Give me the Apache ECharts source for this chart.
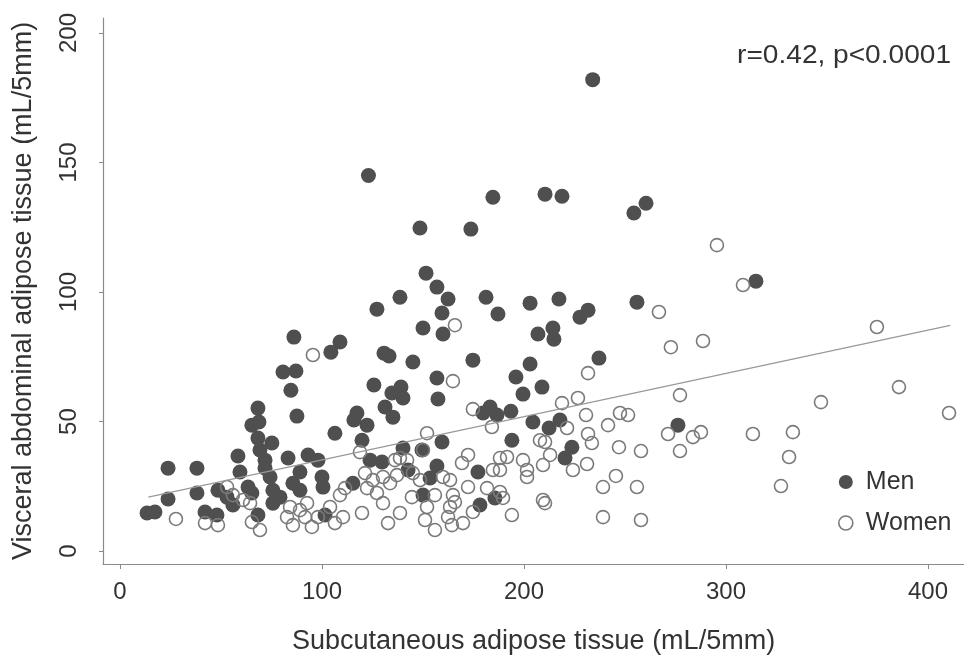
<!DOCTYPE html>
<html>
<head>
<meta charset="utf-8">
<script src="https://cdn.jsdelivr.net/npm/echarts@6/dist/echarts.min.js"></script>
<style>
html,body{margin:0;padding:0;background:#fff;}
#chart{width:964px;height:661px;}
</style>
</head>
<body>
<div id="chart"></div>
<script>
// Men (filled) [subcutaneous, visceral]
const menPoints = [
 [234,182],[123,145],[148.5,124.7],[173.7,124.3],[184.6,136.6],[210.4,137.8],[218.8,137.0],
 [254.4,130.5],[260.4,134.3],[314.8,104.2],[151.5,107.3],[156.9,101.9],[162.4,97.3],[138.6,98.0],
 [127.2,93.4],[150,86.1],[159.4,91.9],[159.9,83.8],[86.1,82.6],[108.9,80.7],[104.4,76.8],
 [130.7,76.4],[133.2,75.3],[145,73],[80.7,69.1],[87.1,69.5],[84.6,62.1],[125.7,64.1],
 [139.1,63.3],[134.6,61.0],[140.1,59.1],[156.9,66.8],[157.4,58.7],[68.3,55.2],[87.6,52.1],
 [117.3,53.3],[115.8,50.6],[131.2,55.6],[135.1,51.7],[181.2,98.0],[187.1,91.5],[203,95.7],
 [217.3,97.3],[227.7,90.3],[231.7,93.0],[206.9,83.8],[214.3,86.1],[214.8,81.8],[255.9,96.1],
 [237.1,74.5],[174.7,73.7],[203,72.2],[196,67.2],[208.9,63.3],[199.5,60.6],[183.2,55.6],
 [179.7,53.3],[186.6,52.5],[193.5,54.0],[217.8,50.6],[212.4,47.5],[223.7,40.1],[220.3,35.9],
 [276.2,48.6],[65.3,48.6],[68.8,49.8],[68.3,43.6],[75.2,41.7],[69.3,39.0],[71.8,35.1],
 [58.4,36.7],[83.2,35.9],[93.1,37.1],[98,35.1],[59.4,30.5],[71.8,32.0],[74.3,28.6],
 [89.1,30.5],[100,28.6],[100.5,24.7],[23.8,32.0],[38.1,32.0],[23.8,20.1],[38.1,22.4],
 [48.5,23.5],[53,20.8],[55.9,17.8],[63.4,24.7],[65.3,22.4],[75.7,23.5],[79.2,20.8],
 [89.1,23.5],[75.7,18.5],[13.4,14.7],[17.3,15.1],[42.1,15.1],[48,13.9],[68.3,13.9],
 [85.6,26.2],[122.3,48.6],[106.4,45.5],[119.8,42.8],[159.4,42.1],[204.4,49.8],[194,42.8],
 [140.1,39.8],[149.5,39.0],[123.8,35.1],[129.7,34.4],[115.3,26.2],[156.9,32.8],[142.6,31.3],
 [153.5,28.2],[177.2,30.5],[150,21.6],[185.6,20.5],[178.2,17.8],[101.5,13.9]
];
// Women (open) [subcutaneous, visceral]
const womenPoints = [
 [295.5,118.1],[308.4,102.7],[165.8,87.2],[95.5,75.7],[266.8,92.3],[272.7,78.7],[288.6,81.1],
 [374.7,86.5],[347,57.5],[385.6,63.3],[410.4,53.3],[231.7,68.7],[277.2,60.2],[226.7,59.1],
 [218.8,57.1],[230.7,52.5],[247.5,53.3],[251.5,52.5],[241.6,48.6],[221.3,47.5],[231.7,45.2],
 [233.6,41.7],[210.4,42.1],[212.9,37.1],[209.4,33.2],[224.2,31.3],[231.2,33.6],[247,40.1],
 [257.9,38.6],[271.3,45.2],[283.6,44.0],[287.6,45.9],[277.2,38.6],[245.5,29.0],[239.1,24.7],
 [255.9,24.7],[209.4,19.7],[210.4,18.5],[239.1,13.1],[257.9,12.0],[313.3,45.2],[333.1,45.9],
 [331.2,36.3],[327.2,25.1],[164.8,65.6],[174.7,54.8],[184.1,47.9],[152,45.5],[150,39.0],
 [118.8,38.2],[138.6,35.9],[142.1,35.1],[136.1,35.1],[172.3,37.1],[169.3,34.0],[188.1,35.9],
 [191.6,36.3],[184.6,31.3],[188.1,31.3],[199.5,35.1],[201.5,31.3],[201.5,28.6],[207.9,42.8],
 [121.3,30.1],[125.2,27.4],[130.2,28.6],[133.7,26.2],[137.1,29.3],[145,30.1],[148.5,27.4],
 [159.9,28.6],[163.4,27.4],[111.4,24.3],[108.9,21.6],[122.3,24.3],[127.2,22.4],[130.2,18.5],
 [144.5,20.8],[155.9,21.6],[164.8,21.6],[165.8,18.9],[172.3,24.7],[181.7,24.3],[188.1,22.8],
 [189.6,20.5],[104,17.0],[106.4,10.8],[110.4,13.1],[119.8,14.7],[138.6,14.7],[132.7,10.8],
 [152,17.0],[151,12.0],[163.4,17.0],[162.4,13.1],[164.3,10.0],[169.8,10.8],[174.7,15.1],
 [194,13.9],[155.9,8.1],[27.7,12.4],[42.1,10.8],[48.5,10.0],[53,24.7],[55.9,21.6],
 [65.3,11.2],[69.3,8.1],[82.7,13.1],[85.6,10.0],[89.1,15.8],[92.6,18.5],[91.6,13.1],
 [95,9.3],[84.2,17.0],[60.9,19.7],[64.4,18.5],[98,13.1]
];
// Fitted regression line end points
const fitLine = [[14,20.8],[411,87.1]];
const xTicks = [0,100,200,300,400];
const yTicks = [0,50,100,150,200];
const seriesNames = ['Men','Women'];
const statText = 'r=0.42, p<0.0001';
const xTitle = 'Subcutaneous adipose tissue (mL/5mm)';
const yTitle = 'Visceral abdominal adipose tissue (mL/5mm)';

const FONT = '"Liberation Sans", Arial, Helvetica, sans-serif';
const TXT = '#333';
const AX = '#8a8a8a';
const chart = echarts.init(document.getElementById('chart'));
chart.setOption({
  animation: false,
  backgroundColor: '#fff',
  grid: {left: 103, top: 18, width: 861, height: 546, containLabel: false, outerBoundsMode: 'none'},
  xAxis: {
    type: 'value', min: -8.4, max: 417.8,
    name: xTitle, nameLocation: 'middle', nameGap: 64,
    nameTextStyle: {fontFamily: FONT, fontSize: 27, color: TXT},
    axisLine: {show: true, onZero: false, lineStyle: {color: AX, width: 1.2}},
    axisTick: {show: true, length: 5, customValues: xTicks, lineStyle: {color: AX}},
    axisLabel: {customValues: xTicks, margin: 16, fontFamily: FONT, fontSize: 24, color: TXT},
    splitLine: {show: false}
  },
  yAxis: {
    type: 'value', min: -5, max: 205.8,
    name: yTitle, nameLocation: 'middle', nameGap: 66,
    nameTextStyle: {fontFamily: FONT, fontSize: 27, color: TXT},
    axisLine: {show: true, onZero: false, lineStyle: {color: AX, width: 1.2}},
    axisTick: {show: true, length: 4, customValues: yTicks, lineStyle: {color: AX}},
    axisLabel: {customValues: yTicks, rotate: 90, margin: 22, fontFamily: FONT, fontSize: 24, color: TXT},
    splitLine: {show: false}
  },
  legend: {
    orient: 'vertical', left: 833, top: 462, itemGap: 11,
    itemWidth: 14, itemHeight: 14, icon: 'circle',
    textStyle: {fontFamily: FONT, fontSize: 25, color: TXT, lineHeight: 30, padding: [0,0,0,8]},
    data: [
      {name: seriesNames[0], itemStyle: {color: '#4f4f4f', borderWidth: 0}},
      {name: seriesNames[1], itemStyle: {color: 'rgba(0,0,0,0)', borderColor: '#7a7a7a', borderWidth: 1.6}}
    ]
  },
  graphic: [{
    type: 'text', x: 951, y: 56, scaleX: 1.08,
    style: {text: statText, align: 'right', verticalAlign: 'middle',
      fontFamily: FONT, fontSize: 26, fill: TXT}
  }],
  series: [
    {
      name: seriesNames[0], type: 'scatter', data: menPoints, symbol: 'circle', symbolSize: 15,
      itemStyle: {color: '#4f4f4f', opacity: 1}, z: 2
    },
    {
      name: seriesNames[1], type: 'scatter', data: womenPoints, symbol: 'circle', symbolSize: 13,
      itemStyle: {color: 'rgba(0,0,0,0)', borderColor: '#7a7a7a', borderWidth: 1.6, opacity: 1}, z: 3
    },
    {
      name: 'fit', type: 'line', data: fitLine, symbol: 'none', silent: true,
      lineStyle: {color: '#999', width: 1.2}, z: 4
    }
  ]
});
</script>
</body>
</html>
